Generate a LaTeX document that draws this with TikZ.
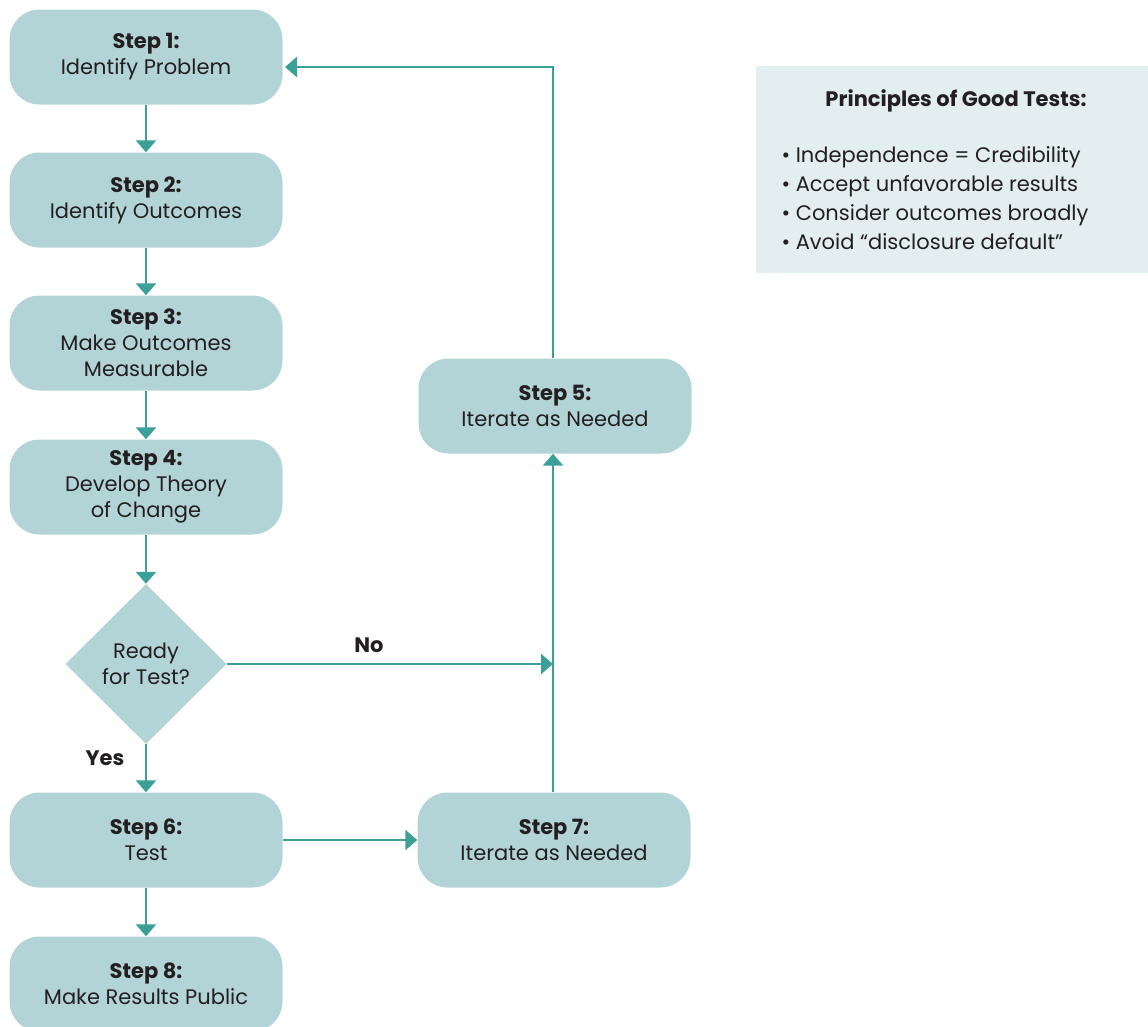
\documentclass[tikz,border=0pt]{standalone}
\usepackage{fontspec}
\setmainfont{Poppins}
\usepackage{xcolor}
\usepackage{tikz}
\usetikzlibrary{arrows.meta,shapes.geometric}
\definecolor{boxfill}{HTML}{B3D4D7}
\definecolor{infofill}{HTML}{E3EEF0}
\definecolor{teal}{HTML}{3AA098}
\definecolor{ink}{HTML}{231F20}
\tikzset{
  stepbox/.style={rectangle, rounded corners=30pt, fill=boxfill, minimum width=273pt, minimum height=95pt, align=center, text=ink, font=\fontsize{21}{26}\selectfont},
  decide/.style={diamond, fill=boxfill, minimum width=161pt, minimum height=160pt, inner sep=0pt, align=center, text=ink, font=\fontsize{21}{26}\selectfont},
  flow/.style={draw=teal, line width=2.6pt, -{Triangle[width=20pt,length=12pt]}},
  lab/.style={text=ink, font=\bfseries\fontsize{21}{26}\selectfont}
}

\begin{document}
\begin{tikzpicture}[x=1pt, y=-1pt]
  \useasboundingbox (0,0) rectangle (1148,1026);

  \node[stepbox] (s1) at (146,57) {\textbf{Step 1:}\\Identify Problem};
  \node[stepbox] (s2) at (146,200) {\textbf{Step 2:}\\Identify Outcomes};
  \node[stepbox] (s3) at (146,343) {\textbf{Step 3:}\\Make Outcomes\\Measurable};
  \node[stepbox] (s4) at (146,487) {\textbf{Step 4:}\\Develop Theory\\of Change};
  \node[decide] (ready) at (146,664) {Ready\\for Test?};
  \node[stepbox] (s6) at (146,840) {\textbf{Step 6:}\\Test};
  \node[stepbox] (s8) at (146,984) {\textbf{Step 8:}\\Make Results Public};
  \node[stepbox] (s5) at (555,406) {\textbf{Step 5:}\\Iterate as Needed};
  \node[stepbox] (s7) at (554,840) {\textbf{Step 7:}\\Iterate as Needed};

  \coordinate (back) at (285,67);
  \coordinate (join) at (553,664);

  \draw[flow] (s1) -- (s2);
  \draw[flow] (s2) -- (s3);
  \draw[flow] (s3) -- (s4);
  \draw[flow] (s4) -- (ready);
  \draw[flow] (ready) -- (s6);
  \draw[flow] (s6) -- (s8);
  \draw[flow] (s6) -- (s7);
  \draw[flow] (s7.north -| join) -- (s5.south -| join);
  \draw[flow] (ready.east) -- (join);
  \draw[flow] (s5.north -| join) |- (back);

  \node[lab] (no) at (369,645) {No};
  \node[lab] (yes) at (105,758) {Yes};

  % principles box
  \node[rectangle, fill=infofill, minimum width=392pt, minimum height=207pt] (info) at (952,169.5) {};
  \node[lab] (infotitle) at (956,101) {Principles of Good Tests:};
  \node[anchor=north west, align=left, text=ink, font=\fontsize{21}{29}\selectfont] (infolist) at (778,143)
    {• Independence = Credibility\\• Accept unfavorable results\\• Consider outcomes broadly\\• Avoid “disclosure default”};
\end{tikzpicture}
\end{document}
